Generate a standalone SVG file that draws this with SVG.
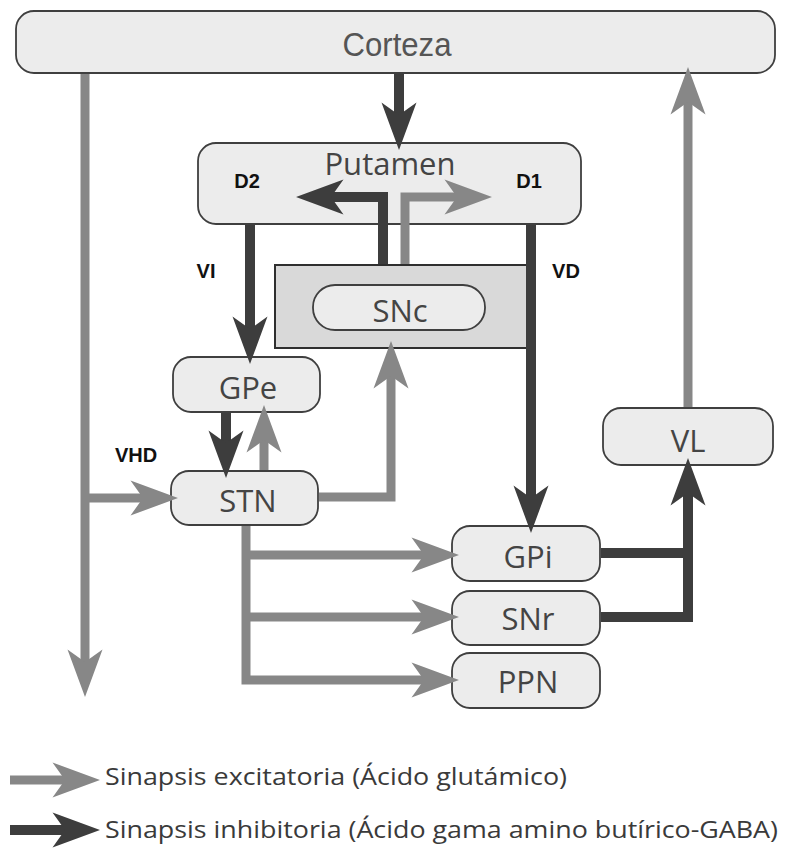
<svg xmlns="http://www.w3.org/2000/svg" width="787" height="848" viewBox="0 0 787 848">
<style>
.node{fill:#ececec;stroke:#3f3f3f;stroke-width:1.8}
.lbl{font-family:"Open Sans","DejaVu Sans",sans-serif;font-size:31px;fill:#444;text-anchor:middle}
.bold{font-family:"Liberation Sans",Arial,sans-serif;font-weight:bold;font-size:20px;fill:#111;text-anchor:middle}
.ex{fill:none;stroke:#878787;stroke-width:9}
.in{fill:none;stroke:#3d3d3d;stroke-width:10}
.leg{font-family:"Open Sans","DejaVu Sans",sans-serif;font-size:24px;fill:#3a3a3a}
</style>
<defs>
<marker id="ag" markerUnits="userSpaceOnUse" markerWidth="60" markerHeight="40" viewBox="-12 -16 44 32" refX="0" refY="0" orient="auto" overflow="visible">
<path d="M-10,-14 L28,0 L-10,14 L0,0 Z" fill="#878787"/>
</marker>
<marker id="ad" markerUnits="userSpaceOnUse" markerWidth="60" markerHeight="40" viewBox="-12 -16 44 32" refX="0" refY="0" orient="auto" overflow="visible">
<path d="M-10,-14 L28,0 L-10,14 L0,0 Z" fill="#3d3d3d"/>
</marker>
</defs>

<g id="corteza">
<rect class="node" x="16" y="11" width="759" height="62" rx="18"/>
<text x="397" y="56" font-family="Liberation Sans,Arial,sans-serif" font-size="33" fill="#555" text-anchor="middle" textLength="109" lengthAdjust="spacingAndGlyphs">Corteza</text>
</g>

<g id="putamen">
<rect class="node" x="198" y="143" width="383" height="81" rx="18"/>
<text class="lbl" x="390" y="175">Putamen</text>
<text class="bold" x="247" y="188">D2</text>
<text class="bold" x="529" y="188">D1</text>
</g>

<g id="snc">
<rect x="275" y="265" width="252" height="83" fill="#d9d9d9" stroke="#2f2f2f" stroke-width="2"/>
<rect class="node" x="313" y="285" width="172" height="45" rx="22"/>
<text class="lbl" x="400" y="322">SNc</text>
</g>

<g id="gpe">
<rect class="node" x="173" y="357" width="147" height="55" rx="18"/>
<text class="lbl" x="248" y="399">GPe</text>
</g>

<g id="stn">
<rect class="node" x="171" y="471" width="147" height="54" rx="18"/>
<text class="lbl" x="248" y="512">STN</text>
</g>

<g id="gpi">
<rect class="node" x="452" y="526" width="148" height="55" rx="18"/>
<text class="lbl" x="528" y="568">GPi</text>
</g>

<g id="snr">
<rect class="node" x="452" y="591" width="148" height="54" rx="18"/>
<text class="lbl" x="528" y="630">SNr</text>
</g>

<g id="ppn">
<rect class="node" x="452" y="653" width="148" height="55" rx="18"/>
<text class="lbl" x="528" y="693">PPN</text>
</g>

<g id="vl">
<rect class="node" x="603" y="408" width="170" height="57" rx="18"/>
<text class="lbl" x="688" y="452">VL</text>
</g>

<g id="connectors">
<path class="in" d="M399,74 V115" marker-end="url(#ad)"/>
<path class="ex" d="M85,74 V662" marker-end="url(#ag)"/>
<path class="ex" d="M85,498 H143" marker-end="url(#ag)"/>
<path class="ex" d="M688,407 V102" marker-end="url(#ag)"/>
<path class="in" d="M250,225 V329" marker-end="url(#ad)"/>
<path class="in" d="M531,225 V498" marker-end="url(#ad)"/>
<path class="in" d="M383,264 V197 H331" marker-end="url(#ad)"/>
<path class="ex" d="M405,264 V197 H457" marker-end="url(#ag)"/>
<path class="in" d="M226,413 V443" marker-end="url(#ad)"/>
<path class="ex" d="M264,470 V440" marker-end="url(#ag)"/>
<path class="ex" d="M319,497 H391 V376" marker-end="url(#ag)"/>
<path class="ex" d="M246,526 V680 H424" marker-end="url(#ag)"/>
<path class="ex" d="M246,555 H424" marker-end="url(#ag)"/>
<path class="ex" d="M246,617 H424" marker-end="url(#ag)"/>
<path class="in" d="M601,553 H688"/>
<path class="in" d="M601,617 H688 V493" marker-end="url(#ad)"/>
</g>

<g id="labels">
<text class="bold" x="206" y="278">VI</text>
<text class="bold" x="566" y="278">VD</text>
<text class="bold" x="136" y="462">VHD</text>
</g>

<g id="legend">
<path class="ex" d="M10,780 H65" marker-end="url(#ag)"/>
<text class="leg" x="105" y="785" textLength="462" lengthAdjust="spacingAndGlyphs">Sinapsis excitatoria (Ácido glutámico)</text>
<path class="in" d="M10,830 H65" marker-end="url(#ad)"/>
<text class="leg" x="105" y="838" textLength="673" lengthAdjust="spacingAndGlyphs">Sinapsis inhibitoria (Ácido gama amino butírico-GABA)</text>
</g>
</svg>
